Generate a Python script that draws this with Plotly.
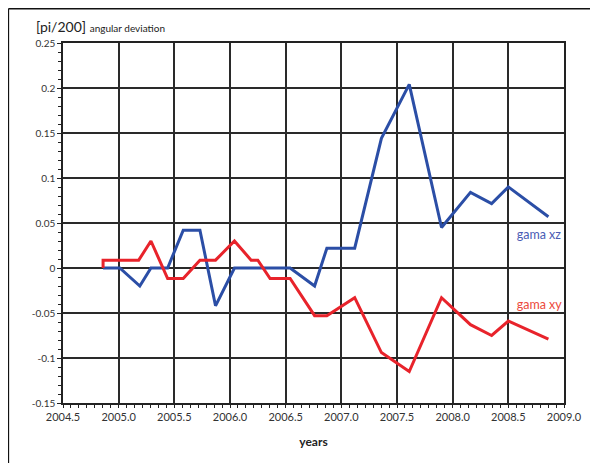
import plotly.graph_objects as go

# gama xz (blue)
xz_years = [2004.86, 2005.01, 2005.19, 2005.29, 2005.44, 2005.58, 2005.73, 2005.87,
            2006.04, 2006.54, 2006.76, 2006.87, 2007.12, 2007.36, 2007.61, 2007.90,
            2008.16, 2008.35, 2008.50, 2008.86]
xz_values = [0.0, 0.0, -0.02, 0.0, 0.0, 0.042, 0.042, -0.042,
             0.0, 0.0, -0.02, 0.022, 0.022, 0.144, 0.204, 0.045,
             0.084, 0.0715, 0.09, 0.057]

# gama xy (red)
xy_years = [2004.86, 2004.86, 2005.18, 2005.29, 2005.44, 2005.58, 2005.73, 2005.87,
            2006.04, 2006.19, 2006.25, 2006.36, 2006.54, 2006.76, 2006.87, 2007.12,
            2007.36, 2007.61, 2007.90, 2008.16, 2008.35, 2008.50, 2008.86]
xy_values = [0.0, 0.0087, 0.0087, 0.03, -0.0117, -0.0117, 0.0087, 0.0087,
             0.03, 0.0087, 0.0087, -0.0117, -0.0117, -0.053, -0.053, -0.033,
             -0.094, -0.115, -0.033, -0.063, -0.075, -0.059, -0.079]

x_ticks = [2004.5, 2005.0, 2005.5, 2006.0, 2006.5, 2007.0, 2007.5, 2008.0, 2008.5, 2009.0]
x_labels = ["2004.5", "2005.0", "2005.5", "2006.0", "2006.5", "2007.0", "2007.5", "2008.0", "2008.5", "2009.0"]
y_ticks = [0.25, 0.2, 0.15, 0.1, 0.05, 0.0, -0.05, -0.1, -0.15]
y_labels = ["0.25", "0.2", "0.15", "0.1", "0.05", "0", "-0.05", "-0.1", "-0.15"]

series_names = ["gama xz", "gama xy"]
label_year = [2008.575, 2008.575]
label_value = [0.036, -0.042]

BLUE = "#2b4ea6"
RED = "#e8232b"
FONT = "Lato"

fig = go.Figure()
fig.add_trace(go.Scatter(x=xz_years, y=xz_values, mode="lines",
                         line=dict(color=BLUE, width=3), name=series_names[0]))
fig.add_trace(go.Scatter(x=xy_years, y=xy_values, mode="lines",
                         line=dict(color=RED, width=3), name=series_names[1]))
fig.add_trace(go.Scatter(x=[label_year[0]], y=[label_value[0]], mode="text",
                         text=[series_names[0]], textposition="middle right",
                         textfont=dict(color="#4a5cb4", size=12.5, family=FONT), cliponaxis=True))
fig.add_trace(go.Scatter(x=[label_year[1]], y=[label_value[1]], mode="text",
                         text=[series_names[1]], textposition="middle right",
                         textfont=dict(color="#ec4a3c", size=12.5, family=FONT), cliponaxis=True))

fig.update_layout(
    width=590, height=455,
    margin=dict(l=55, r=34, t=35, b=60),
    paper_bgcolor="white", plot_bgcolor="white",
    showlegend=False,
    font=dict(family=FONT, size=11, color="#333333"),
    xaxis=dict(range=[2004.5, 2009.0], tickvals=x_ticks, ticktext=x_labels,
               showgrid=True, gridcolor="#2a2a2a", gridwidth=2,
               showline=True, linecolor="#222222", linewidth=1.5, mirror=True,
               ticks="outside", ticklen=3, tickcolor="#222222",
               minor=dict(dtick=0.5 / 7, ticks="outside", ticklen=3, tickcolor="#222222", showgrid=False),
               tickfont=dict(size=11, color="#333333"),
               title=dict(text="<b>years</b>", font=dict(size=12, color="#222222"), standoff=16),
               zeroline=False, fixedrange=True),
    yaxis=dict(range=[-0.15, 0.25], tickvals=y_ticks, ticktext=y_labels,
               showgrid=True, gridcolor="#2a2a2a", gridwidth=2,
               showline=True, linecolor="#222222", linewidth=1.5, mirror=True,
               ticks="outside", ticklen=4, tickcolor="#222222",
               minor=dict(dtick=0.01, ticks="outside", ticklen=3, tickcolor="#222222", showgrid=False),
               tickfont=dict(size=10, color="#333333"),
               zeroline=False, fixedrange=True),
    annotations=[dict(xref="paper", yref="paper", x=-0.058, y=1.047, xanchor="left", yanchor="middle",
                      showarrow=False,
                      text="[pi/200] <span style='font-size:10px'>angular deviation</span>",
                      font=dict(size=14, color="#222222", family=FONT))],
    shapes=[
        dict(type="line", xref="paper", yref="paper", x0=-0.109, x1=1.2, y0=1.095, y1=1.095,
             line=dict(color="#111111", width=1.5)),
        dict(type="line", xref="paper", yref="paper", x0=-0.109, x1=-0.109, y0=1.095, y1=-0.3,
             line=dict(color="#111111", width=1.5)),
    ],
)

fig.write_html("out.html")
